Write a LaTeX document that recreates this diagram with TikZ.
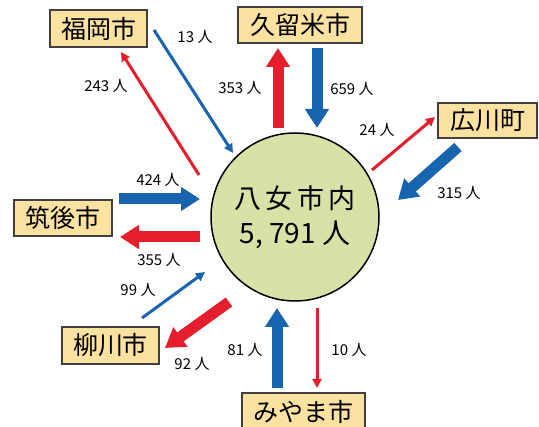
\documentclass[tikz,border=0pt]{standalone}
\usepackage{fontspec}
\setmainfont{Noto Sans CJK JP}
\newfontfamily\spacedfont[LetterSpace=17]{Noto Sans CJK JP}
\usepackage{tikz}
\usepackage{xcolor}
\usetikzlibrary{arrows.meta}

\definecolor{flowred}{RGB}{228,30,45}
\definecolor{flowblue}{RGB}{25,100,175}
\definecolor{cityfill}{RGB}{252,226,160}
\definecolor{yamefill}{RGB}{214,226,166}

\tikzset{
    city/.style={draw=black!75, line width=1.2pt, fill=cityfill,
        font=\fontsize{25}{25}\selectfont, inner sep=0pt},
    count/.style={font=\fontsize{15}{15}\selectfont},
    bigflow/.style={line width=11pt, -{Triangle[width=23pt,length=19pt]}},
    smallflow/.style={line width=3pt, -{Triangle[width=9pt,length=9pt]}},
}

\begin{document}
\begin{tikzpicture}[x=1pt,y=-1pt]
    \useasboundingbox (0,0) rectangle (539,427);

    % Yame
    \node [circle, draw, line width=1.5pt, fill=yamefill, minimum size=168pt,
        inner sep=0pt, align=center, font=\fontsize{28}{35}\selectfont]
        (yame) at (295,217) {{\spacedfont\fontsize{27}{35}\selectfont 八女市内}\\5, 791 人};

    % Cities
    \node [city, minimum width=97pt, minimum height=37pt] (fukuoka) at (98.5,28.5) {福岡市};
    \node [city, minimum width=124pt, minimum height=36pt] (kurume) at (300,25) {久留米市};
    \node [city, minimum width=99pt, minimum height=35pt] (hirokawa) at (487.5,120.5) {広川町};
    \node [city, minimum width=98pt, minimum height=36pt] (chikugo) at (63,218) {筑後市};
    \node [city, minimum width=97pt, minimum height=37pt] (yanagawa) at (110.5,345.5) {柳川市};
    \node [city, minimum width=123pt, minimum height=37pt] (miyama) at (303.5,411.5) {みやま市};

    % Fukuoka
    \coordinate (fuk-in) at (154,30);
    \coordinate (fuk-in-end) at (233,153);
    \coordinate (fuk-out) at (199,175);
    \coordinate (fuk-out-end) at (121,52);
    \draw [flowblue,smallflow] (fuk-in) -- (fuk-in-end);
    \draw [flowred,smallflow] (fuk-out) -- (fuk-out-end);
    \node [count] (fuk-in-lbl) at (195,37) {13 人};
    \node [count] (fuk-out-lbl) at (106,86) {243 人};

    % Kurume
    \coordinate (kur-out) at (278,128);
    \coordinate (kur-out-end) at (278,48);
    \coordinate (kur-in) at (317,48);
    \coordinate (kur-in-end) at (317,128);
    \draw [flowred,bigflow] (kur-out) -- (kur-out-end);
    \draw [flowblue,bigflow] (kur-in) -- (kur-in-end);
    \node [count] (kur-out-lbl) at (240,88) {353 人};
    \node [count] (kur-in-lbl) at (352,89) {659 人};

    % Hirokawa
    \coordinate (hir-out) at (372,170);
    \coordinate (hir-out-end) at (435,117);
    \coordinate (hir-in) at (458,147);
    \coordinate (hir-in-end) at (398,200);
    \draw [flowred,smallflow] (hir-out) -- (hir-out-end);
    \draw [flowblue,bigflow] (hir-in) -- (hir-in-end);
    \node [count] (hir-out-lbl) at (377,130) {24 人};
    \node [count] (hir-in-lbl) at (459,193) {315 人};

    % Chikugo
    \coordinate (chi-in) at (119,199);
    \coordinate (chi-in-end) at (200,199);
    \coordinate (chi-out) at (200,237);
    \coordinate (chi-out-end) at (120,237);
    \draw [flowblue,bigflow] (chi-in) -- (chi-in-end);
    \draw [flowred,bigflow] (chi-out) -- (chi-out-end);
    \node [count] (chi-in-lbl) at (158,180) {424 人};
    \node [count] (chi-out-lbl) at (159,260) {355 人};

    % Yanagawa
    \coordinate (yan-in) at (142,318);
    \coordinate (yan-in-end) at (205,272);
    \coordinate (yan-out) at (229,302);
    \coordinate (yan-out-end) at (165,348);
    \draw [flowblue,smallflow] (yan-in) -- (yan-in-end);
    \draw [flowred,bigflow] (yan-out) -- (yan-out-end);
    \node [count] (yan-in-lbl) at (138,290) {99 人};
    \node [count] (yan-out-lbl) at (192,364) {92 人};

    % Miyama
    \coordinate (miy-in) at (277,388);
    \coordinate (miy-in-end) at (277,308);
    \coordinate (miy-out) at (317,308);
    \coordinate (miy-out-end) at (317,388);
    \draw [flowblue,bigflow] (miy-in) -- (miy-in-end);
    \draw [flowred,smallflow] (miy-out) -- (miy-out-end);
    \node [count] (miy-in-lbl) at (245,350) {81 人};
    \node [count] (miy-out-lbl) at (349,350) {10 人};
\end{tikzpicture}
\end{document}
